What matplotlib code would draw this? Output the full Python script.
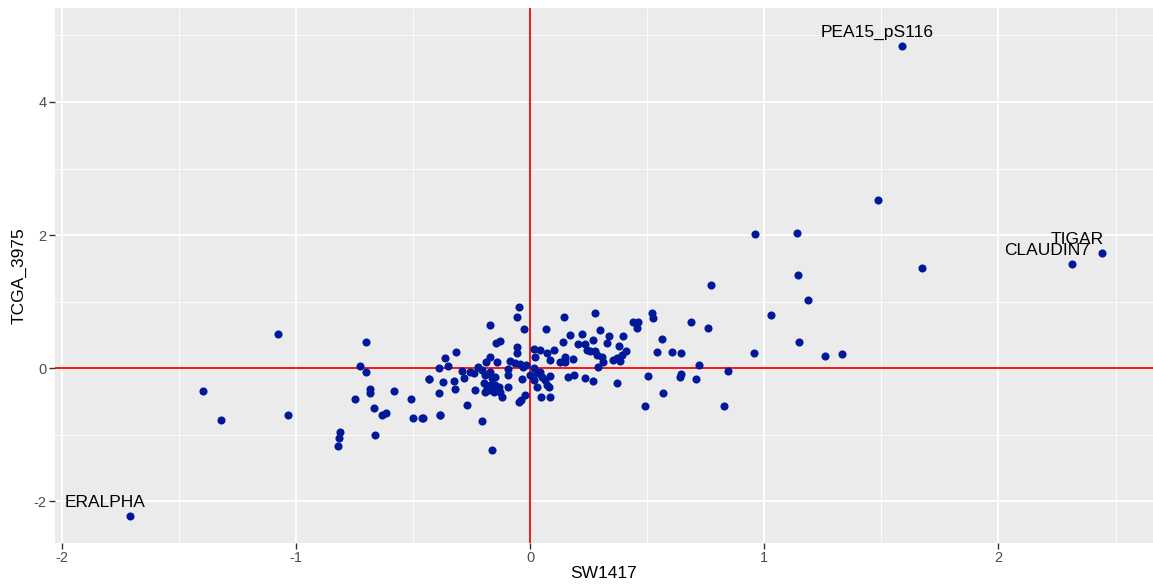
import numpy as np
import matplotlib.pyplot as plt

plt.rcParams['axes.unicode_minus'] = False
plt.rcParams['font.family'] = ['Liberation Sans', 'DejaVu Sans']

# SW1417 (x) vs TCGA_3975 (y)
sw1417 = [
    -1.711, 1.588, 2.441, 2.313, 1.484, 1.673, 0.960, 1.140, 1.142, 1.185,
    1.029, 0.770, 0.761, 0.687, 0.956, 1.149, 1.258, 1.333, 0.844, 0.829,
    0.721,
    -1.078, -1.399, -1.320, -1.036, -0.701, -0.729, -0.703, -0.683, -0.683, -0.748,
    -0.583, -0.666, -0.635, -0.618, -0.509, -0.501, -0.461, -0.665, -0.811, -0.819,
    -0.822, -0.432, -0.387,
    -0.046, -0.057, -0.171, -0.027, 0.068, 0.145, 0.275, -0.128, -0.145, -0.055,
    -0.317, -0.363, -0.353, -0.388, -0.434, -0.058, -0.171, -0.140, -0.188, -0.225,
    -0.085, -0.064, -0.043, -0.017, 0.014, 0.043, 0.071, 0.100, 0.085, 0.021,
    0.142, 0.168, 0.221, 0.206, 0.232, 0.270, 0.300, 0.337, 0.327, 0.377,
    0.242, 0.277, 0.285, 0.306, 0.309, 0.353, 0.370, 0.149, 0.128, 0.149,
    0.182, 0.289, 0.163, 0.188, 0.232, 0.268, 0.370, -0.292, -0.256, -0.242,
    -0.282, -0.327, -0.374, -0.320, -0.391, -0.235, -0.270, -0.206, -0.192, -0.171,
    -0.164, -0.149, -0.199, -0.185, -0.171, -0.149, -0.135, -0.192, -0.178, -0.154,
    -0.128, -0.121, -0.097, -0.093, -0.093, -0.035, -0.021, -0.038, -0.047, 0.000,
    0.014, 0.028, 0.043, 0.050, 0.064, 0.071, 0.085, 0.078, 0.047, 0.085,
    0.028, -0.208, -0.162, -0.385, -0.460, 0.014, -0.029,
    0.441, 0.461, 0.455, 0.521, 0.524, 0.563, 0.543, 0.605, 0.642, 0.501,
    0.643, 0.640, 0.707, 0.566, 0.488, 0.396, 0.410, 0.390, 0.385, 0.256,
]
tcga_3975 = [
    -2.226, 4.840, 1.729, 1.564, 2.520, 1.504, 2.015, 2.025, 1.393, 1.018,
    0.800, 1.243, 0.600, 0.687, 0.230, 0.390, 0.180, 0.215, -0.040, -0.576,
    0.040,
    0.511, -0.346, -0.787, -0.697, 0.396, 0.030, -0.065, -0.311, -0.371, -0.471,
    -0.346, -0.597, -0.697, -0.667, -0.462, -0.742, -0.742, -0.998, -0.958, -1.053,
    -1.163, -0.165, -0.707,
    0.922, 0.772, 0.647, 0.591, 0.581, 0.767, 0.827, 0.411, 0.371, 0.321,
    0.241, 0.150, 0.030, 0.000, -0.165, 0.221, 0.170, 0.085, 0.095, 0.020,
    0.110, 0.080, 0.060, 0.045, 0.290, 0.270, 0.220, 0.280, 0.120, 0.170,
    0.396, 0.496, 0.506, 0.361, 0.356, 0.421, 0.567, 0.486, 0.371, 0.331,
    0.270, 0.256, 0.190, 0.170, 0.095, 0.120, 0.150, 0.170, 0.095, 0.095,
    0.130, 0.010, -0.140, -0.105, -0.155, -0.195, -0.220, -0.040, -0.055, -0.080,
    -0.155, -0.195, -0.215, -0.316, -0.371, -0.331, -0.547, -0.030, -0.105, -0.055,
    -0.155, -0.130, -0.230, -0.280, -0.256, -0.256, -0.280, -0.356, -0.331, -0.356,
    -0.356, -0.431, -0.280, -0.105, -0.020, -0.170, -0.406, -0.481, -0.506, -0.105,
    -0.180, -0.280, -0.055, -0.130, -0.180, -0.256, -0.120, -0.280, -0.431, -0.431,
    -0.080, -0.800, -1.228, -0.707, -0.747, -0.005, 0.020,
    0.690, 0.700, 0.610, 0.832, 0.747, 0.436, 0.236, 0.236, 0.226, -0.115,
    -0.090, -0.130, -0.165, -0.381, -0.566, 0.476, 0.256, 0.190, 0.105, 0.256,
]
label_names = ["ERALPHA", "PEA15_pS116", "TIGAR", "CLAUDIN7"]
label_x = [-1.711, 1.588, 2.441, 2.313]
label_y = [-2.226, 4.840, 1.729, 1.564]

fig = plt.figure(figsize=(11.53, 5.84), dpi=100)
ax = fig.add_axes([0.0477, 0.070, 0.9523, 0.916])
ax.set_facecolor('#EBEBEB')
for s in ax.spines.values():
    s.set_visible(False)

ax.set_xlim(-2.03, 2.66)
ax.set_ylim(-2.63, 5.41)
ax.set_xticks([-2, -1, 0, 1, 2])
ax.set_yticks([-2, 0, 2, 4])
ax.set_xticks([-1.5, -0.5, 0.5, 1.5, 2.5], minor=True)
ax.set_yticks([-1, 1, 3, 5], minor=True)
ax.grid(which='major', color='white', linewidth=1.3)
ax.grid(which='minor', color='white', linewidth=0.6)
ax.set_axisbelow(True)
ax.tick_params(which='major', length=4, width=1, color='#333333',
               labelcolor='#4D4D4D', labelsize=10.5, pad=2)
ax.tick_params(which='minor', length=0)

ax.axhline(0, color='red', linewidth=1.3, zorder=2)
ax.axvline(0, color='red', linewidth=1.3, zorder=2)

ax.scatter(sw1417, tcga_3975, s=34, color='#00189A', linewidths=0, zorder=3)

for name, x, y in zip(label_names, label_x, label_y):
    ax.text(x - 0.105, y + 0.2, name, ha='center', va='center',
            fontsize=12.5, color='black', zorder=4)

ax.set_xlabel('SW1417', fontsize=12.5, color='black')
ax.set_ylabel('TCGA_3975', fontsize=12.5, color='black')
ax.xaxis.set_label_coords(0.5, -0.042)
ax.yaxis.set_label_coords(-0.026, 0.5)

fig.savefig('out.png', dpi=100)
